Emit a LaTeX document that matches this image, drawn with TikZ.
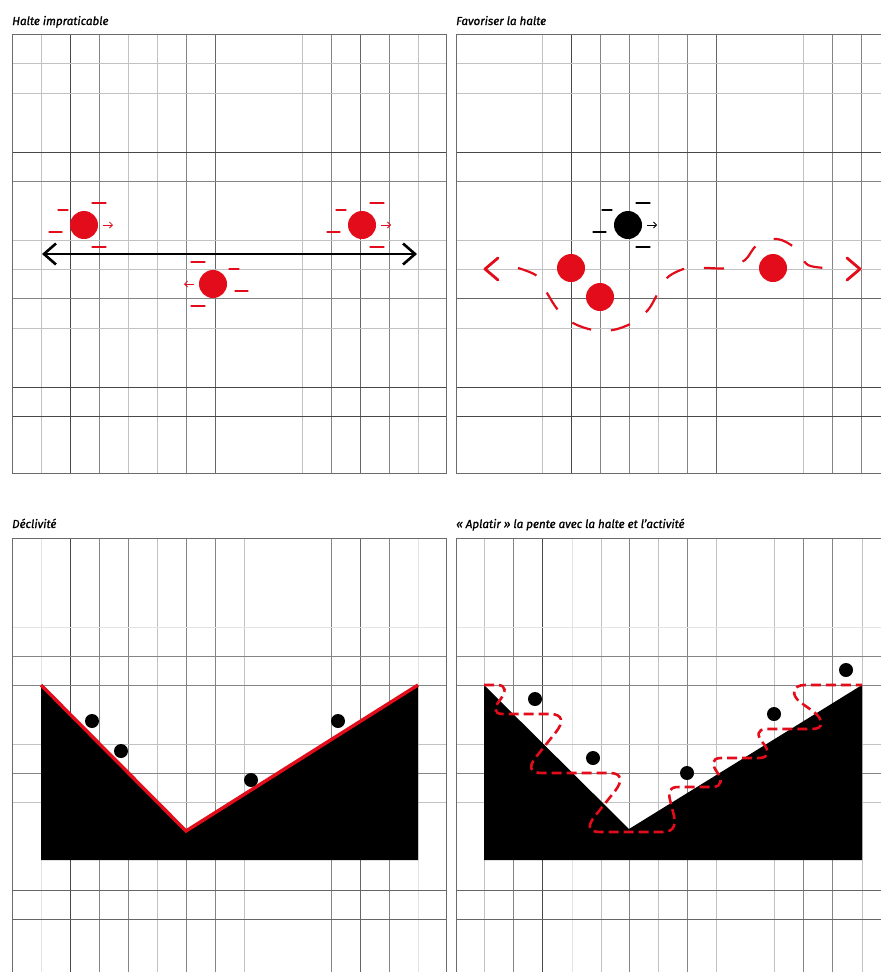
\documentclass[tikz,border=0pt]{standalone}
\usepackage{fontspec}
\setmainfont{Fira Sans}
\newfontfamily\titlefont{Fira Sans}[ItalicFeatures={FakeBold=1.2}]
\usetikzlibrary{arrows.meta}
\definecolor{rouge}{RGB}{226,12,26}
\tikzset{
  gdk/.style={draw=black!72,line width=0.9pt},
  gsd/.style={draw=black!60,line width=0.9pt},
  gmd/.style={draw=black!48,line width=0.9pt},
  glt/.style={draw=black!24,line width=0.9pt},
  gvl/.style={draw=black!11,line width=0.9pt},
  frame/.style={draw=black!58,line width=1pt},
  titre/.style={anchor=base west,inner sep=0pt,font=\titlefont\fontsize{11.6}{13}\selectfont\itshape},
  ball/.style={circle,fill=#1,minimum size=28pt,inner sep=0pt,draw=none},
  dot/.style={circle,fill=black,minimum size=14pt,inner sep=0pt,draw=none},
  mmark/.style={line width=1.2pt,line cap=round},
  motion/.pic={
    \draw[mmark] (-26,-15) -- (-16,-15);
    \draw[mmark] (8,-22) -- (22,-22);
    \draw[mmark] (-35,7) -- (-22,7);
    \draw[mmark] (8,22) -- (22,22);
    \draw[line width=0.8pt,-{Straight Barb[length=3pt,width=6pt]}] (19,0) -- (29,0);
  },
  chev/.style={draw=rouge,line width=2.8pt,line cap=round,line join=round},
  reddash/.style={draw=rouge,line width=2.2pt,dash pattern=on 20pt off 20pt},
  stepdash/.style={draw=rouge,line width=2.6pt,dash pattern=on 10pt off 5pt},
}
\begin{document}
\begin{tikzpicture}[x=1pt,y=-1pt]
\useasboundingbox (0,0) rectangle (881,972);
\fill[white] (0,0) rectangle (881,972);

% ---------- Panel 1 grid
\foreach \x/\s in {41/glt,70/gdk,99/gmd,128/glt,157/glt,186/gmd,215/gsd,302/glt,331/gmd,360/gsd,389/gmd,418/glt}
  \draw[\s] (\x,34) -- (\x,473);
\foreach \y/\s in {63/glt,93/glt,152/gdk,181/gmd,240/glt,269/glt,298/gmd,328/glt,387/gdk,416/gdk}
  \draw[\s] (12,\y) -- (446,\y);
\draw[frame] (12,34) rectangle (446,473);

% ---------- Panel 2 grid
\foreach \x/\s in {542/glt,571/gdk,600/gmd,629/gmd,658/glt,687/gmd,716/gsd,803/glt,832/gmd,861/gmd}
  \draw[\s] (\x,34) -- (\x,473);
\foreach \y/\s in {63/glt,93/glt,152/gdk,181/gmd,240/glt,269/glt,298/gsd,328/glt,387/gdk,416/gdk}
  \draw[\s] (456,\y) -- (881,\y);
\draw[frame] (881,34) -- (456,34) -- (456,473) -- (881,473);

% ---------- Panel 3 grid
\foreach \x/\s in {41/gvl,70/gdk,99/gmd,128/gmd,157/glt,186/gmd,215/gmd,244/glt,331/gmd,360/gsd,389/gmd,418/gvl}
  \draw[\s] (\x,538) -- (\x,972);
\foreach \y/\s in {627/gvl,656/gmd,685/gmd,744/glt,773/gmd,802/glt,890/gsd,919/gsd}
  \draw[\s] (12,\y) -- (446,\y);
\draw[frame] (12,972) -- (12,538) -- (446,538) -- (446,972);

% ---------- Panel 4 grid
\foreach \x/\s in {484/glt,513/gmd,542/gdk,572/gvl,601/glt,629/gmd,658/glt,687/gmd,716/glt,774/glt,803/gmd,832/gmd,862/glt}
  \draw[\s] (\x,538) -- (\x,972);
\foreach \y/\s in {627/gvl,656/gmd,685/gmd,744/glt,773/gmd,802/glt,890/gsd,919/gsd}
  \draw[\s] (456,\y) -- (881,\y);
\draw[frame] (456,972) -- (456,538) -- (881,538);

% ---------- Titles
\node[titre] (t1) at (12,25) {Halte impraticable};
\node[titre] (t2) at (456,25) {Favoriser la halte};
\node[titre] (t3) at (12,528) {Déclivité};
\node[titre] (t4) at (456,528) {« Aplatir » la pente avec la halte et l’activité};

% ---------- Panel 1 content
\coordinate (aL) at (42,254);
\coordinate (aR) at (417,254);
\draw[line width=2.6pt,{Straight Barb[length=12pt,width=21pt]}-{Straight Barb[length=12pt,width=21pt]}] (aL) -- (aR);
\node[ball=rouge] (b1) at (84,225) {};
\node[ball=rouge] (b2) at (213,284) {};
\node[ball=rouge] (b3) at (362,225) {};
\pic[draw=rouge,color=rouge] at (b1) {motion};
\pic[draw=rouge,color=rouge] at (b3) {motion};
\pic[draw=rouge,color=rouge,xscale=-1] at (b2) {motion};

% ---------- Panel 2 content
\node[ball=black] (k1) at (628,225) {};
\pic[draw=black,color=black] at (k1) {motion};
\node[ball=rouge] (c1) at (571,268) {};
\node[ball=rouge] (c2) at (600,297) {};
\node[ball=rouge] (c3) at (773,268) {};
\draw[reddash] plot[smooth,tension=0.55] coordinates {(518,268) (537,276) (547,293) (558,310) (573,323) (593,330) (613,330) (632,323) (648,310) (658,293) (668,277) (687,268) (707,268) (727,268) (745,260) (757,245) (777,239) (795,248) (808,265) (830,268)};
\coordinate (lt) at (485,269);
\coordinate (rt) at (860,269);
\draw[chev] ([shift={(13,-11)}]lt) -- (lt) -- ([shift={(13,11)}]lt);
\draw[chev] ([shift={(-13,-11)}]rt) -- (rt) -- ([shift={(-13,11)}]rt);

% ---------- Panel 3 content
\fill[black] (41,685) -- (186,831) -- (418,685) -- (418,860) -- (41,860) -- cycle;
\draw[rouge,line width=3.4pt] (41,685) -- (186,831) -- (418,685);
\node[dot] (d1) at (92,721) {};
\node[dot] (d2) at (121,751) {};
\node[dot] (d3) at (251,780) {};
\node[dot] (d4) at (338,721) {};

% ---------- Panel 4 content
\fill[black] (484,685) -- (629,829) -- (862,685) -- (862,860) -- (484,860) -- cycle;
\draw[stepdash] (484,685) -- (497,685) .. controls (507,685) and (506,692) .. (500,700)
  .. controls (494,707) and (493,714) .. (503,714)
  -- (550,714) .. controls (563,714) and (564,722) .. (556,732) -- (536,757)
  .. controls (528,767) and (530,773) .. (542,773)
  -- (610,773) .. controls (622,773) and (623,781) .. (615,791) -- (595,816)
  .. controls (587,826) and (588,832) .. (600,832)
  -- (663,832) .. controls (676,832) and (676,822) .. (673,812) -- (670,800)
  .. controls (668,791) and (669,787) .. (679,787)
  -- (712,787) .. controls (723,787) and (722,779) .. (717,772)
  .. controls (712,765) and (711,758) .. (721,758)
  -- (759,758) .. controls (770,758) and (769,750) .. (763,743)
  .. controls (757,736) and (756,729) .. (767,729)
  -- (812,729) .. controls (825,729) and (823,719) .. (814,712) -- (800,702)
  .. controls (791,695) and (792,685) .. (805,685) -- (862,685);
\node[dot] (e1) at (535,699) {};
\node[dot] (e2) at (593,758) {};
\node[dot] (e3) at (687,773) {};
\node[dot] (e4) at (774,714) {};
\node[dot] (e5) at (846,670) {};
\end{tikzpicture}
\end{document}
